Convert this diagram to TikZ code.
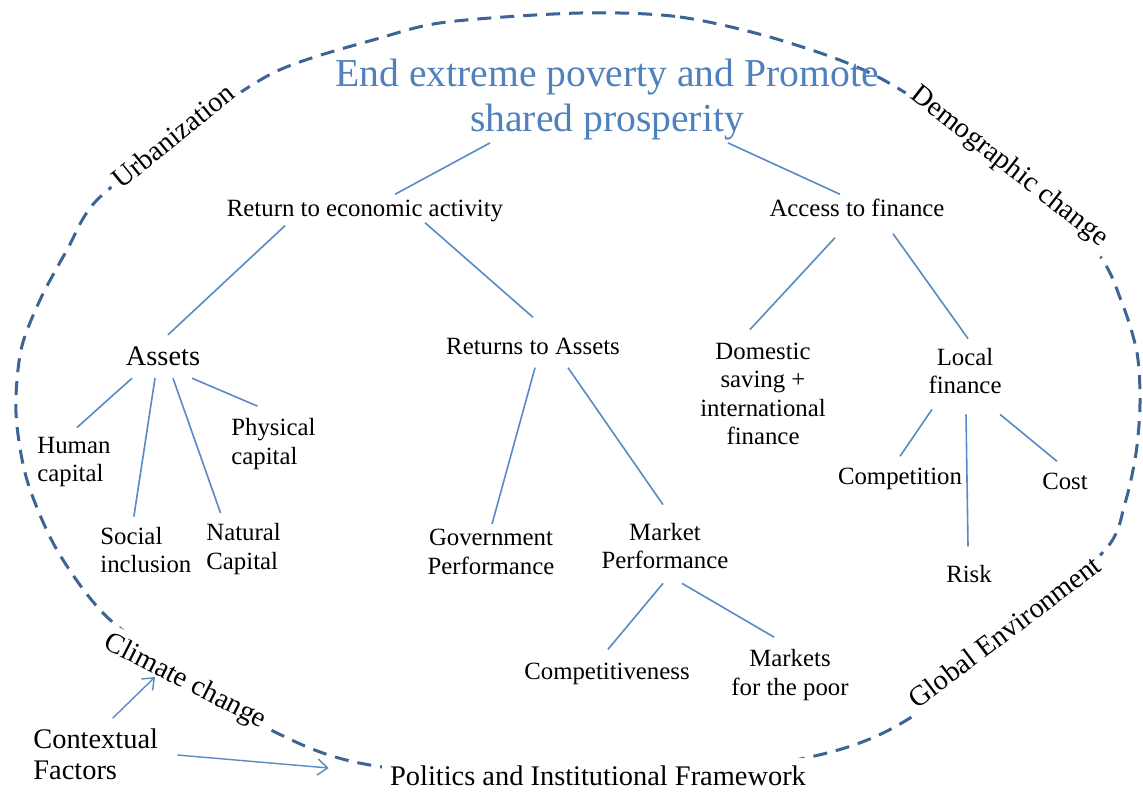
\documentclass[tikz,border=0pt]{standalone}
\usepackage{fontspec}
\setmainfont{Liberation Serif}
\usetikzlibrary{arrows.meta,calc}
\definecolor{goalblue}{HTML}{4F81BD}
\definecolor{linkblue}{HTML}{5A8AC6}
\definecolor{ringblue}{HTML}{3D6494}

\begin{document}
\begin{tikzpicture}[
  x=0.5pt,y=-0.5pt,line join=round,
  txt/.style={font=\fontsize{12.4}{14.25}\selectfont,inner sep=1pt,align=center},
  one/.style={txt,text height=8.6pt,text depth=2.7pt},
  big/.style={font=\fontsize{14.2}{15.5}\selectfont,inner sep=1pt,text height=9.8pt,text depth=3pt},
  ctxlbl/.style={big,fill=white,inner sep=3pt},
  link/.style={linkblue,line width=0.8pt},
  ring/.style={ringblue,line width=1.5pt,dash pattern=on 7pt off 4.5pt},
  push/.style={linkblue,line width=0.7pt,-{Straight Barb[length=5pt,width=8pt]}}
]
  \useasboundingbox (0,0) rectangle (1143,803);
  \fill[white] (0,0) rectangle (1143,803);

  % Dashed ring of contextual factors.
  \draw[ring] plot[smooth cycle] coordinates {
    (580,13) (680,17) (780,40) (880,78) (1000,158) (1095,250) (1122,303)
    (1137,353) (1140,403) (1136,453) (1125,503) (1105,550) (1010,632)
    (910,718) (810,757) (590,787) (370,765) (277,733) (190,678) (107,617)
    (57,550) (27,480) (16,413) (21,350) (40,300) (67,250) (97,200)
    (180,135) (275,72) (380,38) (447,22)};

  % Labels sitting on the ring.
  \node[ctxlbl,rotate=39] (urb) at (175,138) {Urbanization};
  \node[ctxlbl,rotate=-38] (demo) at (1009,167) {Demographic change};
  \node[ctxlbl,rotate=37] (glob) at (1006,634) {Global Environment};
  \node[ctxlbl,rotate=-27] (clim) at (185,682) {Climate change};
  \node[ctxlbl,inner sep=4pt] (pol) at (598,779) {Politics and Institutional Framework};

  % Goal.
  \node[txt,text=goalblue,font=\fontsize{19.8}{22.5}\selectfont] (title) at (607,100)
    {End extreme poverty and Promote\\shared prosperity};

  % Tree of drivers.
  \node[one] (ret) at (365,211) {Return to economic activity};
  \node[one] (acc) at (857,211) {Access to finance};
  \node[big] (assets) at (163,359) {Assets};
  \node[one] (rta) at (533,349) {Returns to Assets};
  \node[txt] (dom) at (763,394) {Domestic\\saving +\\international\\finance};
  \node[txt] (loc) at (965,371) {Local\\finance};
  \node[txt,align=left,anchor=west] (human) at (35,462) {Human\\capital};
  \node[txt,align=left,anchor=west] (phys) at (229,444) {Physical\\capital};
  \node[txt,align=left,anchor=west] (social) at (98,550) {Social\\inclusion};
  \node[txt,align=left,anchor=west] (natural) at (204,549) {Natural\\Capital};
  \node[txt] (gov) at (491,552) {Government\\Performance};
  \node[txt] (market) at (665,546) {Market\\Performance};
  \node[one] (compv) at (607,674) {Competitiveness};
  \node[txt] (mpoor) at (790,675) {Markets\\for the poor};
  \node[one] (compn) at (900,479) {Competition};
  \node[one] (cost) at (1065,484) {Cost};
  \node[one] (risk) at (969,577) {Risk};
  \node[font=\fontsize{14.2}{15.5}\selectfont,inner sep=1pt,align=left,anchor=west] (ctx)
    at (31,754) {Contextual\\Factors};

  % Links of the tree.
  \draw[link] ($(title.south)+(-117,0)$) -- ($(ret.north)+(30,-3)$);
  \draw[link] ($(title.south)+(121,0)$) -- ($(acc.north)+(-17,-3)$);
  \draw[link] ($(ret.south)+(-80,1)$) -- ($(assets.north)+(5,-9)$);
  \draw[link] ($(ret.south)+(60,-2)$) -- ($(rta.north)+(0,-18)$);
  \draw[link] ($(acc.south)+(-22,13)$) -- ($(dom.north)+(-13,-11)$);
  \draw[link] ($(acc.south)+(36,9)$) -- ($(loc.north)+(3,-7)$);
  \draw[link] ($(assets.south)+(-31,4)$) -- ($(human.north)+(3,-7)$);
  \draw[link] ($(assets.south)+(-8,4)$) -- ($(social.north)+(-12,-8)$);
  \draw[link] ($(assets.south)+(10,4)$) -- ($(natural.north)+(-23,-8)$);
  \draw[link] ($(assets.south)+(29,4)$) -- ($(phys.north)+(-16,-10)$);
  \draw[link] ($(rta.south)+(2,5)$) -- ($(gov.north)+(1,-3)$);
  \draw[link] ($(rta.south)+(35,5)$) -- ($(market.north)+(-2,-16)$);
  \draw[link] ($(market.south)+(-2,12)$) -- ($(compv.north)+(1,-11)$);
  \draw[link] ($(market.south)+(17,12)$) -- ($(mpoor.north)+(-16,-10)$);
  \draw[link] ($(loc.south)+(-33,13)$) -- ($(compn.north)+(0,-9)$);
  \draw[link] ($(loc.south)+(1,18)$) -- ($(risk.north)+(-1,-17)$);
  \draw[link] ($(loc.south)+(35,18)$) -- ($(cost.north)+(-8,-9)$);

  % Contextual factors acting on the ring.
  \draw[push] ($(ctx.north)+(17,-8)$) -- ($(clim.center)+(-30,-5)$);
  \draw[push] ($(ctx.east)+(17,1)$) -- ($(pol.west)+(-53,-11)$);
\end{tikzpicture}
\end{document}
